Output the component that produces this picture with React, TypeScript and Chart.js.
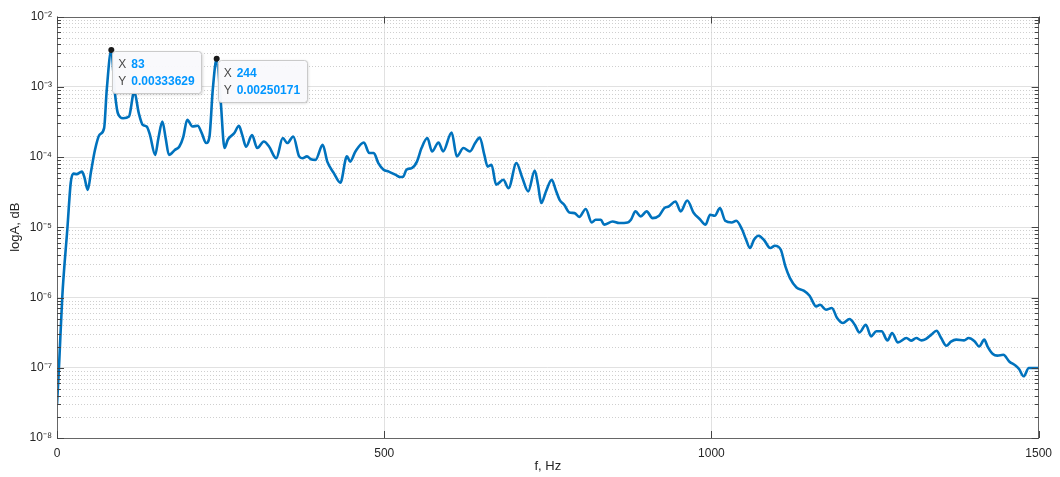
import React, { useEffect, useRef } from "react";
import { Chart, registerables } from "chart.js";

Chart.register(...registerables);

// ---------- data ----------
const freqHz = [
  0, 3, 8, 16, 21, 25, 30, 38, 42, 47, 52, 58, 65, 72, 76, 83, 88, 93, 101, 110,
  118, 125, 131, 137, 142, 150, 155, 161, 166, 171, 180, 187, 193, 199, 207, 215, 221, 228, 233, 238,
  244, 250, 256, 261, 271, 278, 283, 289, 298, 306, 316, 324, 335, 345, 352, 361, 370, 375, 382, 388,
  395, 406, 413, 423, 433, 443, 448, 456, 469, 477, 484, 491, 499, 507, 517, 524, 529, 534, 542, 550,
  557, 566, 573, 583, 590, 603, 611, 621, 631, 639, 646, 653, 658, 664, 671, 682, 690, 702, 711, 720,
  730, 735, 740, 747, 756, 762, 768, 775, 783, 791, 798, 808, 817, 823, 831, 836, 849, 859, 872, 877,
  884, 892, 901, 910, 920, 928, 935, 945, 953, 963, 973, 982, 991, 998, 1005, 1013, 1021, 1031, 1038, 1047,
  1053, 1059, 1065, 1072, 1080, 1090, 1097, 1106, 1113, 1120, 1130, 1141, 1150, 1160, 1166, 1175, 1184, 1192, 1201, 1211,
  1219, 1226, 1236, 1244, 1252, 1260, 1269, 1276, 1285, 1298, 1305, 1313, 1321, 1328, 1336, 1344, 1351, 1359, 1366, 1374,
  1386, 1393, 1402, 1409, 1417, 1422, 1430, 1437, 1446, 1455, 1465, 1470, 1477, 1485, 1500,
];

const amplitude = [
  3.0e-8, 1.0e-7, 1.0e-6, 1.0e-5, 4.3e-5, 5.8e-5, 5.7e-5, 6.2e-5, 5.1e-5, 3.4e-5, 6.2e-5, 1.26e-4, 2.07e-4, 2.58e-4, 9.0e-4, 0.00333629, 9.0e-4, 4.2e-4, 3.57e-4, 3.77e-4,
  8.55e-4, 4.2e-4, 2.87e-4, 2.72e-4, 2.07e-4, 1.07e-4, 1.87e-4, 3.2e-4, 1.87e-4, 1.07e-4, 1.26e-4, 1.41e-4, 1.94e-4, 3.38e-4, 2.72e-4, 2.78e-4, 2.21e-4, 1.58e-4, 1.96e-4, 9.0e-4,
  0.00250171, 6.5e-4, 1.34e-4, 1.76e-4, 2.19e-4, 2.78e-4, 2.07e-4, 1.4e-4, 2.05e-4, 1.34e-4, 1.66e-4, 1.41e-4, 9.6e-5, 1.86e-4, 1.58e-4, 1.96e-4, 1.02e-4, 9.6e-5, 1.02e-4, 9.3e-5,
  9.1e-5, 1.49e-4, 8.6e-5, 5.9e-5, 4.3e-5, 1.02e-4, 8.6e-5, 1.2e-4, 1.61e-4, 1.14e-4, 1.14e-4, 8.2e-5, 6.6e-5, 6.2e-5, 5.6e-5, 5.2e-5, 5.25e-5, 6.6e-5, 6.95e-5, 8.6e-5,
  1.34e-4, 1.86e-4, 1.2e-4, 1.61e-4, 1.2e-4, 2.23e-4, 1.02e-4, 1.34e-4, 1.2e-4, 1.58e-4, 1.89e-4, 1.07e-4, 7.3e-5, 7.75e-5, 4.03e-5, 4.74e-5, 3.6e-5, 8.2e-5, 5.06e-5, 3.23e-5,
  6.43e-5, 4.03e-5, 2.21e-5, 3.2e-5, 4.74e-5, 3.41e-5, 2.46e-5, 2.09e-5, 1.62e-5, 1.59e-5, 1.4e-5, 1.82e-5, 1.17e-5, 1.28e-5, 1.28e-5, 1.09e-5, 1.21e-5, 1.15e-5, 1.17e-5, 1.28e-5,
  1.68e-5, 1.43e-5, 1.68e-5, 1.35e-5, 1.46e-5, 1.87e-5, 1.98e-5, 2.33e-5, 1.68e-5, 2.4e-5, 1.59e-5, 1.31e-5, 1.09e-5, 1.51e-5, 1.46e-5, 1.87e-5, 1.24e-5, 1.17e-5, 1.24e-5, 9.2e-6,
  6.64e-6, 5.06e-6, 6.64e-6, 7.57e-6, 6.64e-6, 5.06e-6, 5.46e-6, 4.79e-6, 2.77e-6, 1.89e-6, 1.39e-6, 1.25e-6, 1.06e-6, 7.47e-7, 7.9e-7, 6.7e-7, 7.09e-7, 5.1e-7, 4.33e-7, 4.94e-7,
  4.1e-7, 3.19e-7, 4.1e-7, 2.8e-7, 3.3e-7, 3.3e-7, 2.45e-7, 3.13e-7, 2.3e-7, 2.65e-7, 2.43e-7, 2.65e-7, 2.45e-7, 2.57e-7, 2.96e-7, 3.37e-7, 2.65e-7, 2.06e-7, 2.35e-7, 2.51e-7,
  2.45e-7, 2.65e-7, 2.39e-7, 2.01e-7, 2.51e-7, 2.0e-7, 1.57e-7, 1.49e-7, 1.53e-7, 1.23e-7, 1.07e-7, 9.6e-8, 7.55e-8, 9.93e-8, 9.9e-8,
];

const tipFreq = [83, 244];
const tipAmp = [0.00333629, 0.00250171];

const xTickValues = [0, 500, 1000, 1500];
const yDecadeExps = [-8, -7, -6, -5, -4, -3, -2];
const yDecadeLabels = ["10⁻⁸", "10⁻⁷", "10⁻⁶", "10⁻⁵", "10⁻⁴", "10⁻³", "10⁻²"];
const xTitle = "f, Hz";
const yTitle = "logA, dB";

// ---------- styling ----------
const FONT = '"Liberation Sans", Arial, Helvetica, sans-serif';
const LINE_BLUE = "rgb(0,114,189)";
const TEXT = "#262626";
const MAJOR_GRID = "#e1e1e1";
const MINOR_GRID = "#cfcfcf";
const AXIS = "#666666";

const round6 = (v: number) => Number(v.toPrecision(6));
const decadeValues = yDecadeExps.map((e) => round6(Math.pow(10, e)));
const minorValues: number[] = [];
yDecadeExps.slice(0, -1).forEach((e) => {
  for (let m = 2; m <= 9; m++) minorValues.push(round6(m * Math.pow(10, e)));
});
const allYTicks = [...decadeValues, ...minorValues].sort((a, b) => a - b);
const isDecade = (v: number) => decadeValues.some((d) => Math.abs(d - v) / d < 1e-6);
const decadeLabel = (v: number) => {
  const i = decadeValues.findIndex((d) => Math.abs(d - v) / d < 1e-6);
  return i >= 0 ? yDecadeLabels[i] : "";
};

const matlabPlugin = {
  id: "matlabAxes",
  beforeDatasetsDraw(chart: any) {
    const { ctx, chartArea } = chart;
    const ys = chart.scales.y;
    ctx.save();
    ctx.strokeStyle = MINOR_GRID;
    ctx.lineWidth = 1;
    ctx.setLineDash([1, 2]);
    minorValues.forEach((v) => {
      const py = Math.round(ys.getPixelForValue(v)) + 0.5;
      ctx.beginPath();
      ctx.moveTo(chartArea.left, py);
      ctx.lineTo(chartArea.right, py);
      ctx.stroke();
    });
    ctx.restore();
  },
  afterDatasetsDraw(chart: any) {
    const { ctx, chartArea } = chart;
    const xs = chart.scales.x;
    const ys = chart.scales.y;
    const { left, right, top, bottom } = chartArea;
    ctx.save();
    // box
    ctx.strokeStyle = AXIS;
    ctx.lineWidth = 1;
    ctx.strokeRect(Math.round(left) + 0.5, Math.round(top) + 0.5, Math.round(right - left) - 1, Math.round(bottom - top) - 1);
    // inward ticks
    ctx.strokeStyle = "#444444";
    ctx.beginPath();
    allYTicks.forEach((v) => {
      const py = Math.round(ys.getPixelForValue(v)) + 0.5;
      const len = isDecade(v) ? 7 : 4;
      ctx.moveTo(left, py);
      ctx.lineTo(left + len, py);
      ctx.moveTo(right, py);
      ctx.lineTo(right - len, py);
    });
    xTickValues.forEach((v) => {
      const px = Math.round(xs.getPixelForValue(v)) + 0.5;
      ctx.moveTo(px, bottom);
      ctx.lineTo(px, bottom - 7);
      ctx.moveTo(px, top);
      ctx.lineTo(px, top + 7);
    });
    ctx.stroke();

    // data tips
    tipFreq.forEach((f, i) => {
      const px = xs.getPixelForValue(f);
      const py = ys.getPixelForValue(tipAmp[i]);
      const bx = px + 1;
      const by = py + 1.5;
      const xVal = String(f);
      const yVal = String(tipAmp[i]);
      ctx.font = `bold 12px ${FONT}`;
      const vw = Math.max(ctx.measureText(xVal).width, ctx.measureText(yVal).width);
      const w = 19 + vw + 7;
      const h = 42;
      ctx.save();
      ctx.shadowColor = "rgba(0,0,0,0.18)";
      ctx.shadowBlur = 3;
      ctx.shadowOffsetX = 1;
      ctx.shadowOffsetY = 1;
      ctx.fillStyle = "rgba(250,250,253,0.97)";
      ctx.beginPath();
      ctx.roundRect(bx, by, w, h, 3);
      ctx.fill();
      ctx.restore();
      ctx.strokeStyle = "#cacaca";
      ctx.lineWidth = 1;
      ctx.beginPath();
      ctx.roundRect(Math.round(bx) + 0.5, Math.round(by) + 0.5, Math.round(w), Math.round(h), 3);
      ctx.stroke();
      ctx.textBaseline = "middle";
      ctx.textAlign = "left";
      ctx.font = `12px ${FONT}`;
      ctx.fillStyle = "#4a4a4a";
      ctx.fillText("X", bx + 6, by + 13.5);
      ctx.fillText("Y", bx + 6, by + 30);
      ctx.font = `bold 12px ${FONT}`;
      ctx.fillStyle = "rgb(0,150,255)";
      ctx.fillText(xVal, bx + 19, by + 13.5);
      ctx.fillText(yVal, bx + 19, by + 30);
    });
    ctx.restore();
  },
};

export default function App() {
  const canvasRef = useRef<HTMLCanvasElement | null>(null);

  useEffect(() => {
    const canvas = canvasRef.current;
    if (!canvas) return;
    const mainData = freqHz.map((f, i) => ({ x: f, y: amplitude[i] }));
    const tipData = tipFreq.map((f, i) => ({ x: f, y: tipAmp[i] }));

    const chart = new Chart(canvas, {
      type: "line",
      data: {
        datasets: [
          {
            label: "tips",
            data: tipData,
            showLine: false,
            pointRadius: 3,
            pointBackgroundColor: "#1a1a1a",
            pointBorderColor: "#1a1a1a",
            pointBorderWidth: 0,
            order: 0,
          },
          {
            label: "spectrum",
            data: mainData,
            borderColor: LINE_BLUE,
            borderWidth: 2.6,
            pointRadius: 0,
            fill: false,
            cubicInterpolationMode: "monotone",
            order: 1,
          },
        ],
      },
      plugins: [matlabPlugin],
      options: {
        animation: false,
        responsive: true,
        maintainAspectRatio: false,
        layout: { padding: { top: 16.5, right: 17, left: 0, bottom: 0 } },
        plugins: {
          legend: { display: false },
          tooltip: { enabled: false },
          title: { display: false },
        },
        scales: {
          x: {
            type: "linear",
            min: 0,
            max: 1500,
            afterBuildTicks: (scale: any) => {
              scale.ticks = xTickValues.map((v) => ({ value: v }));
            },
            afterFit: (scale: any) => {
              scale.height = 39;
            },
            ticks: {
              autoSkip: false,
              maxRotation: 0,
              padding: 8,
              color: TEXT,
              font: { family: FONT, size: 12 },
              callback: (v: any) => String(v),
            },
            grid: {
              drawTicks: false,
              color: (c: any) =>
                c.tick && (c.tick.value === 0 || c.tick.value === 1500) ? "rgba(0,0,0,0)" : MAJOR_GRID,
              lineWidth: 1,
            },
            border: { display: false },
            title: {
              display: true,
              text: xTitle,
              color: TEXT,
              font: { family: FONT, size: 13 },
              padding: { top: 0, bottom: 3 },
            },
          },
          y: {
            type: "logarithmic",
            min: 1e-8,
            max: 1e-2,
            afterBuildTicks: (scale: any) => {
              scale.ticks = allYTicks.map((v) => ({ value: v, major: isDecade(v) }));
            },
            afterFit: (scale: any) => {
              scale.width = 57;
            },
            ticks: {
              autoSkip: false,
              padding: 5,
              color: TEXT,
              font: { family: FONT, size: 12 },
              callback: (v: any) => decadeLabel(Number(v)),
            },
            grid: {
              drawTicks: false,
              color: (c: any) =>
                c.tick && isDecade(c.tick.value) && c.tick.value > 1.5e-8 && c.tick.value < 0.9e-2
                  ? MAJOR_GRID
                  : "rgba(0,0,0,0)",
              lineWidth: 1,
            },
            border: { display: false },
            title: {
              display: true,
              text: yTitle,
              color: TEXT,
              font: { family: FONT, size: 13 },
              padding: { top: 8, bottom: 0 },
            },
          },
        },
      },
    } as any);

    return () => chart.destroy();
  }, []);

  return (
    <div
      style={{
        position: "fixed",
        left: 0,
        top: 0,
        width: 1060,
        height: 477,
        background: "#ffffff",
      }}
    >
      <canvas ref={canvasRef} />
    </div>
  );
}
